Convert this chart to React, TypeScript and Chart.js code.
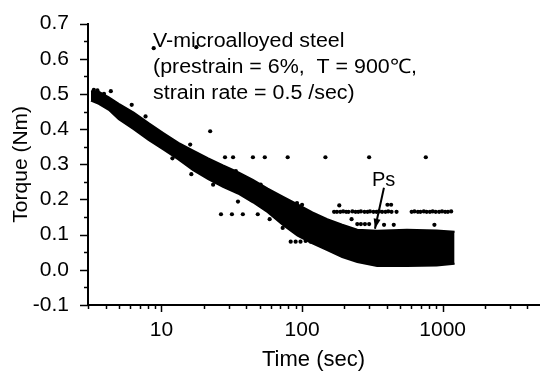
import React, { useEffect, useRef } from "react";
import { Chart, registerables } from "chart.js";

Chart.register(...registerables);

const bandTime = [3.15, 3.58, 4.22, 4.97, 6.34, 8.09, 10.3, 13.2, 16.8, 21.5, 27.4, 35.0, 44.7, 57.0, 72.8, 92.9, 118.5, 151, 193, 247, 342, 557, 907, 1216];
const bandUpper = [0.508, 0.506, 0.49, 0.472, 0.447, 0.417, 0.389, 0.361, 0.339, 0.317, 0.297, 0.278, 0.256, 0.231, 0.208, 0.186, 0.163, 0.144, 0.128, 0.114, 0.111, 0.114, 0.112, 0.108];
const bandLower = [0.481, 0.472, 0.455, 0.428, 0.4, 0.369, 0.342, 0.314, 0.283, 0.258, 0.236, 0.217, 0.192, 0.164, 0.128, 0.097, 0.075, 0.056, 0.036, 0.022, 0.011, 0.011, 0.012, 0.017];

// Scattered / stray points
const strayTime = [
  4.36, 6.14, 7.7, 8.8, 17.7, 11.96, 16, 16.3, 22.2, 23.3, 33.8, 35, 50.8, 58.8, 72.8, 88,
  28.3, 32.3, 44.7, 54.3, 79, 146.6, 300, 759,
  26.5, 31.7, 37.9, 48.4,
  83, 90, 97.5, 106, 115, 124.5,
  193, 83, 92, 100, 184,
  169, 177, 187, 196, 206, 214, 228, 240, 251, 262, 278, 292, 304, 322, 338, 353, 371, 392, 410, 433, 470,
  405, 430,
  602, 630, 667, 695, 735, 770, 812, 850, 893, 944, 990, 1042, 1090, 1150,
  247, 262, 280, 300, 383, 449, 874, 225,
  3.3, 3.5, 3.9
];
const strayTorque = [
  0.508, 0.469, 0.436, 0.63, 0.633, 0.317, 0.356, 0.272, 0.394, 0.242, 0.281, 0.194, 0.242, 0.144, 0.119, 0.119,
  0.32, 0.32, 0.32, 0.32, 0.32, 0.32, 0.32, 0.32,
  0.158, 0.158, 0.158, 0.158,
  0.08, 0.08, 0.08, 0.082, 0.08, 0.08,
  0.042, 0.19, 0.19, 0.185, 0.183,
  0.165, 0.165, 0.165, 0.166, 0.165, 0.165, 0.166, 0.165, 0.165, 0.166, 0.165, 0.165, 0.166, 0.165, 0.165, 0.166, 0.165, 0.165, 0.166, 0.165, 0.165,
  0.185, 0.185,
  0.165, 0.166, 0.165, 0.165, 0.166, 0.165, 0.165, 0.166, 0.165, 0.165, 0.166, 0.165, 0.165, 0.166,
  0.13, 0.13, 0.13, 0.13, 0.128, 0.128, 0.128, 0.144,
  0.512, 0.51, 0.5
];

const xLabelTicks = [10, 100, 1000];
const yMin = -0.1;
const yMax = 0.7;
const xMin = 3;
const xMax = 4848;

const noteLines = ["V-microalloyed steel", "(prestrain = 6%,  T = 900\u2103,", "strain rate = 0.5 /sec)"];
const psLabel = "Ps";
const psTime = 330;
const psTorque = 0.117;

const FONT = '"Liberation Sans", Arial, Helvetica, sans-serif';

const decorPlugin = {
  id: "decor",
  afterDraw(chart: any) {
    const { ctx, chartArea, scales } = chart;
    const xs = scales.x;
    const ys = scales.y;
    ctx.save();
    ctx.strokeStyle = "#000";
    ctx.fillStyle = "#000";
    ctx.lineWidth = 1.5;
    // y ticks (major 0.1, minor 0.05)
    for (let i = 0; i <= 16; i++) {
      const v = yMin + i * 0.05;
      const py = Math.round(ys.getPixelForValue(v)) + 0.5;
      const len = i % 2 === 0 ? 8 : 4;
      ctx.beginPath();
      ctx.moveTo(chartArea.left, py);
      ctx.lineTo(chartArea.left - len, py);
      ctx.stroke();
    }
    // x ticks (log major/minor)
    for (let d = 1; d <= 1000; d *= 10) {
      for (let k = 1; k <= 9; k++) {
        const v = k * d;
        if (v < xMin || v > xMax) continue;
        const px = Math.round(xs.getPixelForValue(v)) + 0.5;
        const len = k === 1 ? 7 : 4;
        ctx.beginPath();
        ctx.moveTo(px, chartArea.bottom);
        ctx.lineTo(px, chartArea.bottom + len);
        ctx.stroke();
      }
    }
    // annotation
    ctx.font = "20px " + FONT;
    ctx.textAlign = "left";
    ctx.textBaseline = "alphabetic";
    noteLines.forEach((s, i) => {
      ctx.save();
      ctx.translate(chartArea.left + 65, chartArea.top + 23 + i * 26);
      ctx.scale(1.07, 1);
      ctx.fillText(s, 0, 0);
      ctx.restore();
    });
    // Ps arrow
    const tipX = xs.getPixelForValue(psTime);
    const tipY = ys.getPixelForValue(psTorque);
    const tailX = tipX + 9;
    const tailY = tipY - 41;
    ctx.lineWidth = 2;
    ctx.beginPath();
    ctx.moveTo(tailX, tailY);
    ctx.lineTo(tipX, tipY);
    ctx.stroke();
    const ang = Math.atan2(tipY - tailY, tipX - tailX);
    const hl = 10;
    const hw = 3.5;
    const bx = tipX - hl * Math.cos(ang);
    const by = tipY - hl * Math.sin(ang);
    ctx.beginPath();
    ctx.moveTo(tipX, tipY);
    ctx.lineTo(bx + hw * Math.sin(ang), by - hw * Math.cos(ang));
    ctx.lineTo(bx - hw * Math.sin(ang), by + hw * Math.cos(ang));
    ctx.closePath();
    ctx.fill();
    ctx.font = "20px " + FONT;
    ctx.fillText(psLabel, tipX - 3, tipY - 43);
    ctx.restore();
  },
};

export default function App() {
  const ref = useRef<HTMLCanvasElement | null>(null);
  useEffect(() => {
    if (!ref.current) return;
    const chart = new Chart(ref.current, {
      type: "scatter",
      data: {
        datasets: [
          {
            type: "line",
            data: bandTime.map((t, i) => ({ x: t, y: bandUpper[i] })),
            borderColor: "#000",
            backgroundColor: "#000",
            borderWidth: 2,
            pointRadius: 0,
            tension: 0,
            fill: "+1",
          } as any,
          {
            type: "line",
            data: bandTime.map((t, i) => ({ x: t, y: bandLower[i] })),
            borderColor: "#000",
            backgroundColor: "#000",
            borderWidth: 2,
            pointRadius: 0,
            tension: 0,
            fill: false,
          } as any,
          {
            type: "scatter",
            data: strayTime.map((t, i) => ({ x: t, y: strayTorque[i] })),
            backgroundColor: "#000",
            borderColor: "#000",
            pointRadius: 2.1,
            pointStyle: "circle",
            borderWidth: 0,
          } as any,
        ],
      },
      options: {
        responsive: false,
        animation: false,
        layout: { padding: { top: 18, right: 0, bottom: 0, left: 0 } },
        plugins: { legend: { display: false }, tooltip: { enabled: false } },
        scales: {
          x: {
            type: "logarithmic",
            min: xMin,
            max: xMax,
            grid: { display: false },
            border: { display: true, color: "#000", width: 2 },
            afterBuildTicks: (s: any) => {
              s.ticks = xLabelTicks.map((v) => ({ value: v }));
            },
            afterFit: (s: any) => {
              s.height = 68;
            },
            ticks: {
              autoSkip: false,
              maxRotation: 0,
              padding: 5,
              color: "#000",
              font: { family: FONT, size: 21 },
              callback: (v: any) => String(v),
            },
            title: {
              display: true,
              text: "Time (sec)",
              color: "#000",
              font: { family: FONT, size: 22 },
              padding: { top: 0, bottom: 0 },
            },
          },
          y: {
            type: "linear",
            min: yMin,
            max: yMax,
            grid: { display: false },
            border: { display: true, color: "#000", width: 2 },
            afterFit: (s: any) => {
              s.width = 88;
            },
            ticks: {
              stepSize: 0.1,
              padding: 11,
              color: "#000",
              font: { family: FONT, size: 21 },
              callback: (v: any) => {
                const n = Number(v);
                return (Math.abs(n) < 1e-9 ? 0 : n).toFixed(1);
              },
            },
            title: {
              display: true,
              text: "Torque (Nm)",
              color: "#000",
              font: { family: FONT, size: 21 },
              padding: { top: 9, bottom: 0 },
            },
          },
        },
      },
      plugins: [decorPlugin],
    } as any);
    return () => chart.destroy();
  }, []);
  return (
    <div style={{ position: "absolute", left: 0, top: 0, width: 543, height: 373, background: "#fff" }}>
      <canvas ref={ref} width={543} height={373} />
    </div>
  );
}
